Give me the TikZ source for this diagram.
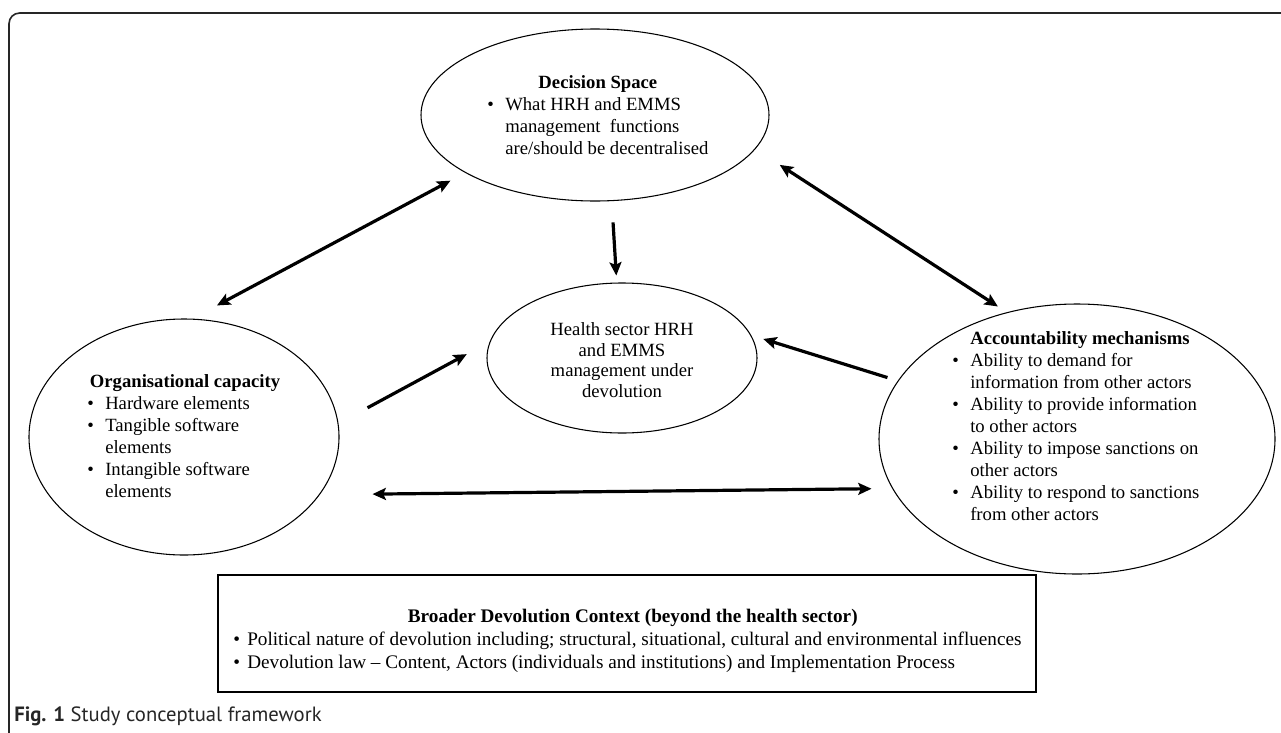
\documentclass[tikz,border=0pt]{standalone}
\usepackage{fontspec}
\setmainfont{Liberation Serif}
\newfontfamily\capfont{PT Sans}
\usetikzlibrary{shapes.geometric,arrows.meta}
\newcommand{\bul}{\makebox[13.5pt][l]{\textbullet}}
\newcommand{\bulb}{\makebox[10.5pt][l]{\textbullet}}
\begin{document}
\begin{tikzpicture}[x=0.75pt,y=-0.75pt,
  ell/.style={draw,ellipse,line width=0.8pt,inner sep=0pt},
  txt/.style={inner sep=0pt,align=left,font=\fontsize{14}{16.5}\selectfont},
  tip/.tip={Stealth[length=10pt,width=9pt,inset=2pt]},
  arr/.style={line width=2.4pt,-tip},
  dbl/.style={line width=2.4pt,tip-tip}]
\useasboundingbox (0,0) rectangle (1281,732);
% frame
\draw[line width=1.2pt,rounded corners=8pt,black!85] (9,740) -- (9,13) -- (1290,13);
% ellipses
\node[ell,minimum width=261pt,minimum height=129pt] (ds) at (595,115) {};
\node[ell,minimum width=202.5pt,minimum height=112.5pt] (hs) at (622,358) {};
\node[ell,minimum width=232.5pt,minimum height=177pt] (org) at (184,437) {};
\node[ell,minimum width=297pt,minimum height=202.5pt] (acc) at (1077,439) {};
% texts
\node[txt,anchor=west] (dst) at (487,117) {\begin{tabular}{@{}l@{}l@{}}
\multicolumn{2}{@{}c@{}}{\textbf{Decision Space}}\\
\bul & What HRH and EMMS\\
 & management\ \ functions\\
 & are/should be decentralised
\end{tabular}};
\node[inner sep=0pt,align=center,font=\fontsize{14}{15.4}\selectfont] (hst) at (622,360) {Health sector HRH\\and EMMS\\management under\\devolution};
\node[txt,anchor=west] (orgt) at (87,438) {\begin{tabular}{@{}l@{}l@{}}
\multicolumn{2}{@{\hspace{2pt}}l@{}}{\textbf{Organisational capacity}}\\
\bul & Hardware elements\\
\bul & Tangible software\\
 & elements\\
\bul & Intangible software\\
 & elements
\end{tabular}};
\node[txt,anchor=west] (acct) at (952,428) {\begin{tabular}{@{}l@{}l@{}}
\multicolumn{2}{@{\hspace{13.5pt}}l@{}}{\textbf{Accountability mechanisms}}\\
\bul & Ability to demand for\\
 & information from other actors\\
\bul & Ability to provide information\\
 & to other actors\\
\bul & Ability to impose sanctions on\\
 & other actors\\
\bul & Ability to respond to sanctions\\
 & from other actors
\end{tabular}};
% bottom box
\node[draw,line width=0.8pt,minimum width=613.5pt,minimum height=87.75pt,inner sep=0pt] (box) at (627,633.5) {};
\node[txt,anchor=west,font=\fontsize{14.4}{17.2}\selectfont] (boxt) at (233,641) {\begin{tabular}{@{}l@{}l@{}}
\multicolumn{2}{@{\hspace{131pt}}l@{}}{\textbf{Broader Devolution Context (beyond the health sector)}}\\
\bulb & Political nature of devolution including; structural, situational, cultural and environmental influences\\
\bulb & Devolution law -- Content, Actors (individuals and institutions) and Implementation Process
\end{tabular}};
% caption
\node[anchor=base west,inner sep=0pt,font=\capfont\fontsize{15.5}{17}\selectfont,black!85] (cap) at (14,721) {\textbf{Fig. 1} Study conceptual framework};
% arrows
\draw[dbl,shorten <=12.5pt,shorten >=21pt] (ds.204.4) -- (org.86);
\draw[dbl,shorten <=21.75pt,shorten >=7.9pt] (ds.348.4) -- (acc.119.1);
\draw[arr,shorten <=16pt,shorten >=5.25pt] (ds.281.9) -- (hs.94.6);
\draw[arr,shorten <=24.75pt,shorten >=19.5pt] (org.5.9) -- (hs.173.1);
\draw[arr,shorten <=8.1pt,shorten >=9.45pt] (acc.162.4) -- (hs.10.6);
\draw[dbl,shorten <=39.5pt,shorten >=15.5pt] (org.337.7) -- (acc.195.5);
\end{tikzpicture}
\end{document}
